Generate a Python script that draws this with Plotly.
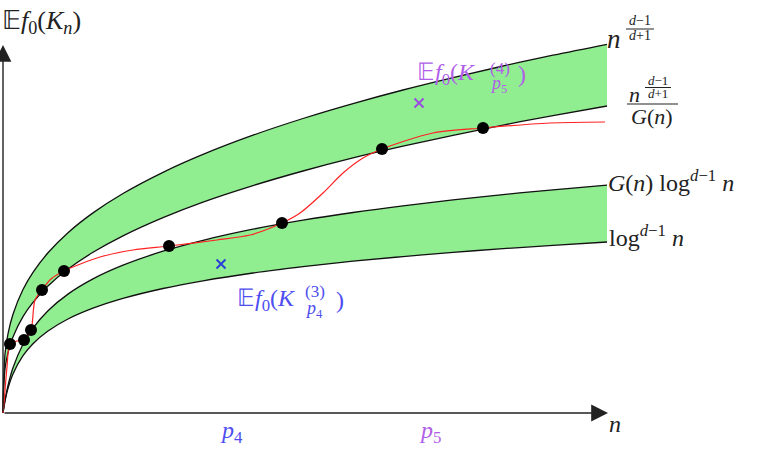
import plotly.graph_objects as go

# ---- data (n along x, value along y, in chart units) ----
n_grid = [0, 2, 5, 10, 20, 30, 45, 65, 90, 120, 160, 200, 250, 300, 350, 400, 450, 500, 550, 604]
upper_top = [0, 59.0, 79.1, 98.8, 123.5, 140.6, 160.2, 180.3, 200.1, 219.5, 240.7, 258.6, 277.8,
             294.5, 309.4, 323.0, 335.4, 347.0, 357.8, 368.7]          # n^{(d-1)/(d+1)}
upper_bot = [0, 44.1, 60.2, 76.1, 96.4, 110.6, 127.0, 143.9, 160.7, 177.2, 195.4, 210.9, 227.4,
             242.0, 255.1, 266.8, 277.7, 287.9, 297.4, 307.0]          # n^{..}/G(n)
lower_top = [0, 12.8, 27.5, 45.3, 68.8, 84.9, 102.3, 118.9, 134.1, 147.8, 161.8, 172.7, 183.8,
             192.8, 200.5, 207.2, 213.1, 218.4, 223.2, 227.9]          # G(n) log^{d-1} n
lower_bot = [0, 12.0, 24.7, 39.1, 57.3, 69.3, 82.0, 94.0, 104.8, 114.6, 124.5, 132.2, 140.0,
             146.3, 151.8, 156.4, 160.6, 164.3, 167.7, 171.0]          # log^{d-1} n

red_n = [0, 1, 4, 7, 14, 21, 28, 32, 39, 48, 61, 97, 130, 166, 214, 247, 279, 297, 320, 340,
         360, 379, 430, 480, 547, 602]
red_h = [0, 10, 46, 69, 72, 73, 83, 113, 123, 134, 142, 156, 163, 167, 173, 178, 190, 200, 220,
         240, 255, 264, 280, 285, 290, 291]

dot_n = [7, 21, 28, 39, 61, 166, 279, 379, 480]
dot_h = [69, 73, 83, 123, 142, 167, 190, 264, 285]

cross_p4 = (218, 149)
cross_p5 = (416, 310)

GREEN = "#90ee90"
BLUE = "#2b3fd8"
PURPLE = "#9c4be0"
BLUE_T = "#4d4df0"
PURPLE_T = "#b060e8"
INK = "#222222"
FONT = "Liberation Serif"

fig = go.Figure()

# bands (fill only)
fig.add_trace(go.Scatter(x=n_grid, y=upper_bot, mode="lines", line=dict(width=0, shape="spline"),
                         hoverinfo="skip", showlegend=False))
fig.add_trace(go.Scatter(x=n_grid, y=upper_top, mode="lines", line=dict(width=0, shape="spline"),
                         fill="tonexty", fillcolor=GREEN, hoverinfo="skip", showlegend=False))
fig.add_trace(go.Scatter(x=n_grid, y=lower_bot, mode="lines", line=dict(width=0, shape="spline"),
                         hoverinfo="skip", showlegend=False))
fig.add_trace(go.Scatter(x=n_grid, y=lower_top, mode="lines", line=dict(width=0, shape="spline"),
                         fill="tonexty", fillcolor=GREEN, hoverinfo="skip", showlegend=False))

# boundary curves
for ys in (upper_top, upper_bot, lower_top, lower_bot):
    fig.add_trace(go.Scatter(x=n_grid, y=ys, mode="lines",
                             line=dict(color="#111111", width=1.3, shape="spline"),
                             showlegend=False))

# red curve
fig.add_trace(go.Scatter(x=red_n, y=red_h, mode="lines",
                         line=dict(color="#ff2222", width=1.2, shape="spline", smoothing=0.8),
                         showlegend=False))
# dots
fig.add_trace(go.Scatter(x=dot_n, y=dot_h, mode="markers",
                         marker=dict(color="black", size=12), showlegend=False))
# crosses
fig.add_trace(go.Scatter(x=[cross_p4[0]], y=[cross_p4[1]], mode="markers",
                         marker=dict(symbol="x-thin", size=9, line=dict(width=2, color=BLUE)),
                         showlegend=False))
fig.add_trace(go.Scatter(x=[cross_p5[0]], y=[cross_p5[1]], mode="markers",
                         marker=dict(symbol="x-thin", size=9, line=dict(width=2, color=PURPLE)),
                         showlegend=False))

W, H = 768, 468


def P(x, y):
    return x / W, 1 - y / H


annotations = []
# axis arrows
for tip in [(0, 368), (605, 0)]:
    annotations.append(dict(x=tip[0], y=tip[1], ax=0, ay=0, xref="x", yref="y", axref="x",
                            ayref="y", text="", showarrow=True, arrowhead=2, arrowsize=2.4,
                            arrowwidth=1.4, arrowcolor=INK, standoff=0, startstandoff=0))


def label(text, x, y, size=24, color=INK, xanchor="left", yanchor="middle"):
    px, py = P(x, y)
    annotations.append(dict(x=px, y=py, xref="paper", yref="paper", text=text, showarrow=False,
                            xanchor=xanchor, yanchor=yanchor, borderpad=0,
                            font=dict(family=FONT, size=size, color=color)))


label("𝔼<i>f</i><sub>0</sub>(<i>K<sub>n</sub></i>)", 1, 22, 26)

# n^{(d-1)/(d+1)}
label("<i>n</i>", 606, 39, 27)
label("<i>d</i>−1", 640, 21, 14, xanchor="center")
label("<i>d</i>+1", 640, 36, 14, xanchor="center")
# n^{..}/G(n)
label("<i>n</i>", 634, 95, 22, xanchor="center")
label("<i>d</i>−1", 658, 80, 13, xanchor="center")
label("<i>d</i>+1", 658, 94, 13, xanchor="center")
label("<i>G</i>(<i>n</i>)", 652, 116, 22, xanchor="center")
# other curve labels
label("<i>G</i>(<i>n</i>) log<sup><i>d</i>−1</sup> <i>n</i>", 607, 181, 24)
label("log<sup><i>d</i>−1</sup> <i>n</i>", 608, 236, 24)

# blue label  E f0(K_{p4}^{(3)})
label("𝔼<i>f</i><sub>0</sub>(<i>K</i>", 236, 300, 24, BLUE_T)
label("(3)", 304, 291, 17, BLUE_T)
label("<i>p</i><sub>4</sub>", 304, 309, 18, BLUE_T)
label(")", 335, 300, 24, BLUE_T)
# purple label  E f0(K_{p5}^{(4)})
label("𝔼<i>f</i><sub>0</sub>(<i>K</i>", 416, 74, 24, PURPLE_T)
label("(4)", 489, 68, 17, PURPLE_T)
label("<i>p</i><sub>5</sub>", 489, 84, 18, PURPLE_T)
label(")", 517, 74, 24, PURPLE_T)

# x-axis labels
label("<i>p</i><sub>4</sub>", 231, 432, 24, BLUE_T, xanchor="center")
label("<i>p</i><sub>5</sub>", 430, 432, 24, PURPLE_T, xanchor="center")
label("<i>n</i>", 615, 424, 24, xanchor="center")

shapes = []
for x0, x1, y, w in [(626, 654, 29, 1), (645, 671, 87.5, 1), (627, 678, 104, 1.2)]:
    shapes.append(dict(type="line", xref="paper", yref="paper",
                       x0=x0 / W, x1=x1 / W, y0=1 - y / H, y1=1 - y / H,
                       line=dict(color=INK, width=w)))

fig.update_layout(
    width=W, height=H, margin=dict(l=0, r=0, t=0, b=0),
    paper_bgcolor="white", plot_bgcolor="white",
    xaxis=dict(range=[-3, 765], visible=False, fixedrange=True),
    yaxis=dict(range=[-55, 413], visible=False, fixedrange=True),
    annotations=annotations, shapes=shapes, showlegend=False,
)

fig.write_html("out.html")
